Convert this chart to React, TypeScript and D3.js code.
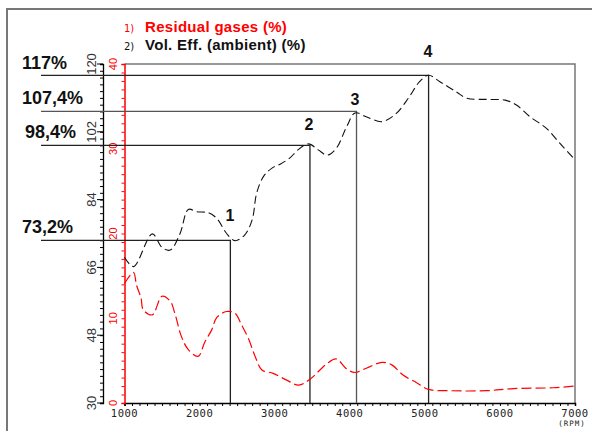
import React, { useEffect, useRef } from 'react'
import * as d3 from 'd3'

// Vol. Eff. (ambient) (%) - left black scale
const rpmVol = [1000, 1120, 1370, 1500, 1610, 1740, 1850, 1960, 2120, 2230, 2360, 2470, 2600, 2700, 2760, 2850, 2960, 3090, 3200, 3310, 3450, 3580, 3700, 3820, 3960, 4070, 4220, 4430, 4620, 4780, 4930, 5050, 5200, 5420, 5560, 5820, 6070, 6220, 6400, 6620, 6800, 6980, 7000]
const volEff = [68.7, 66.2, 74.9, 71.3, 70.6, 75.0, 81.4, 80.8, 80.5, 79.0, 75.0, 73.1, 74.6, 78.6, 85.7, 90.1, 92.3, 93.6, 95.0, 97.2, 98.8, 97.2, 95.8, 97.6, 103.4, 107.0, 106.0, 104.7, 106.9, 110.9, 115.3, 117.0, 115.3, 112.6, 110.9, 110.6, 110.4, 109.1, 106.0, 102.9, 98.9, 95.0, 94.6]

// Residual gases (%) - red scale
const rpmRes = [1000, 1120, 1160, 1220, 1250, 1370, 1500, 1610, 1670, 1760, 1850, 1980, 2070, 2160, 2230, 2360, 2470, 2560, 2650, 2740, 2830, 2980, 3160, 3320, 3470, 3690, 3820, 3960, 4070, 4220, 4430, 4560, 4710, 4890, 5050, 5330, 5820, 6180, 6710, 7000]
const residual = [14.1, 15.4, 13.9, 12.4, 11.0, 10.4, 12.6, 12.0, 10.6, 7.8, 6.3, 5.5, 7.2, 8.6, 10.1, 10.8, 10.6, 9.2, 7.6, 5.5, 3.9, 3.5, 2.7, 2.1, 2.8, 4.6, 5.2, 4.0, 3.6, 4.1, 4.8, 4.5, 3.3, 2.4, 1.6, 1.45, 1.45, 1.7, 1.8, 2.0]

// marked points
const markNames = ['1', '2', '3', '4']
const markRpm = [2410, 3470, 4090, 5050]
const markVal = [73.2, 98.4, 107.4, 117]
const markLabels = ['73,2%', '98,4%', '107,4%', '117%']

const xTicks = [1000, 2000, 3000, 4000, 5000, 6000, 7000]
const volTicks = [30, 48, 66, 84, 102, 120]
const resTicks = [0, 10, 20, 30, 40]

const App = () => {
  const ref = useRef<SVGSVGElement>(null)

  useEffect(() => {
    const svg = d3.select(ref.current)
    svg.selectAll('*').remove()

    const left = 124.5
    const right = 575
    const top = 64
    const bottom = 403
    const volAxisX = 103

    const x = d3.scaleLinear().domain([1000, 7000]).range([left, right])
    const yVol = d3.scaleLinear().domain([30, 120]).range([bottom, top])
    const yRes = d3.scaleLinear().domain([0, 40]).range([bottom, top])

    // outer frame
    svg.append('rect')
      .attr('x', 7).attr('y', 9).attr('width', 600).attr('height', 440)
      .attr('fill', 'none').attr('stroke', '#777').attr('stroke-width', 2)

    // plot box top and right
    svg.append('path')
      .attr('d', `M${left},${top}H${right}V${bottom}`)
      .attr('fill', 'none').attr('stroke', '#777').attr('stroke-width', 1.5)

    // bottom axis
    const gx = svg.append('g').attr('transform', `translate(0,${bottom})`)
    gx.call(d3.axisBottom(x).tickValues(d3.range(1000, 7001, 100)).tickSize(3).tickFormat(() => ''))
    gx.select('.domain').attr('stroke', '#000').attr('stroke-width', 1.5)
    gx.selectAll('.tick line').attr('stroke', '#000')
    gx.selectAll('.tick text').remove()
    gx.selectAll('.lbl')
      .data(xTicks)
      .enter()
      .append('text')
      .attr('x', d => x(d))
      .attr('y', 14)
      .attr('text-anchor', 'middle')
      .style('font-family', 'DejaVu Sans Mono, monospace')
      .style('font-size', '10.5px')
      .style('letter-spacing', '0.5px')
      .attr('fill', '#222')
      .text(d => d)
    svg.append('text')
      .attr('x', 572).attr('y', 426)
      .attr('text-anchor', 'middle')
      .style('font-family', 'DejaVu Sans Mono, monospace')
      .style('font-size', '7.5px')
      .style('letter-spacing', '1px')
      .attr('fill', '#222')
      .text('(RPM)')

    // black volumetric axis
    const gv = svg.append('g').attr('transform', `translate(${volAxisX},0)`)
    gv.call(d3.axisLeft(yVol).tickValues(d3.range(30, 120.01, 1.8)).tickSize(3).tickFormat(() => ''))
    gv.selectAll('.tick line').attr('stroke', '#000')
    gv.select('.domain').attr('stroke', '#000').attr('stroke-width', 1.3)
    gv.selectAll('.tick text').remove()
    gv.selectAll('.maj')
      .data(volTicks)
      .enter()
      .append('line')
      .attr('x1', -6).attr('x2', 0)
      .attr('y1', d => yVol(d)).attr('y2', d => yVol(d))
      .attr('stroke', '#000')
    gv.selectAll('.lbl')
      .data(volTicks)
      .enter()
      .append('text')
      .attr('transform', d => `translate(-7,${yVol(d)}) rotate(-90)`)
      .attr('text-anchor', 'middle')
      .style('font-family', 'Liberation Sans, Arial, sans-serif')
      .style('font-size', '13px')
      .attr('fill', '#333')
      .text(d => d)

    // red residual axis
    const gr = svg.append('g').attr('transform', `translate(${left},0)`)
    gr.call(d3.axisLeft(yRes).tickValues(d3.range(0, 40.01, 1)).tickSize(3).tickFormat(() => ''))
    gr.selectAll('.tick line').attr('stroke', '#f00')
    gr.select('.domain').attr('stroke', '#f00').attr('stroke-width', 1.5)
    gr.selectAll('.tick text').remove()
    gr.selectAll('.lbl')
      .data(resTicks)
      .enter()
      .append('text')
      .attr('transform', d => `translate(-8,${yRes(d)}) rotate(-90)`)
      .attr('text-anchor', 'middle')
      .style('font-family', 'Liberation Sans, Arial, sans-serif')
      .style('font-size', '11px')
      .attr('fill', '#f00')
      .text(d => d)

    // reference lines
    markVal.forEach((v, i) => {
      svg.append('path')
        .attr('d', `M41,${yVol(v)}H${x(markRpm[i])}V${bottom}`)
        .attr('fill', 'none')
        .attr('stroke', i === 2 ? '#555' : '#222')
        .attr('stroke-width', 1.3)
    })

    // curves
    const line = d3.line<[number, number]>().curve(d3.curveCatmullRom.alpha(0.5))
    svg.append('path')
      .attr('d', line(rpmRes.map((r, i) => [x(r), yRes(residual[i])])))
      .attr('fill', 'none').attr('stroke', '#f00').attr('stroke-width', 1.2)
      .attr('stroke-dasharray', '10,4')
    svg.append('path')
      .attr('d', line(rpmVol.map((r, i) => [x(r), yVol(volEff[i])])))
      .attr('fill', 'none').attr('stroke', '#111').attr('stroke-width', 1.1)
      .attr('stroke-dasharray', '8,4')

    // value labels
    const labelY = [233, 138, 104, 69]
    markLabels.forEach((t, i) => {
      svg.append('text')
        .attr('x', i === 1 ? 25 : 22).attr('y', labelY[i])
        .style('font-family', 'Liberation Sans, Arial, sans-serif')
        .style('font-size', '18px').style('font-weight', 'bold')
        .attr('fill', '#111')
        .text(t)
    })

    // point numbers
    const numPos = [[230, 221], [309, 130], [355, 105], [428, 57]]
    markNames.forEach((t, i) => {
      svg.append('text')
        .attr('x', numPos[i][0]).attr('y', numPos[i][1])
        .attr('text-anchor', 'middle')
        .style('font-family', 'Liberation Sans, Arial, sans-serif')
        .style('font-size', '16px').style('font-weight', 'bold')
        .attr('fill', '#111')
        .text(t)
    })

    // legend
    const legend = [
      { n: '1)', t: 'Residual gases (%)', c: '#f00', y: 32 },
      { n: '2)', t: 'Vol. Eff. (ambient) (%)', c: '#111', y: 50 }
    ]
    legend.forEach(l => {
      svg.append('text')
        .attr('x', 124).attr('y', l.y)
        .style('font-family', 'DejaVu Sans, sans-serif')
        .style('font-size', '10px')
        .attr('fill', l.c)
        .text(l.n)
      svg.append('text')
        .attr('x', 145).attr('y', l.y)
        .style('font-family', 'Liberation Sans, Arial, sans-serif')
        .style('font-size', '15px').style('font-weight', 'bold')
        .style('letter-spacing', '0.3px')
        .attr('fill', l.c)
        .text(l.t)
    })
  }, [])

  return <svg ref={ref} width={592} height={431} style={{ position: 'absolute', left: 0, top: 0, background: '#fff' }}></svg>
}

export default App
